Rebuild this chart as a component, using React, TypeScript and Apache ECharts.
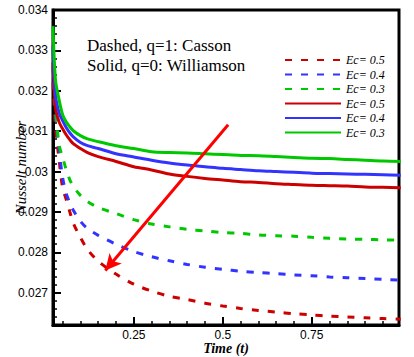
import React, { useEffect, useRef } from "react";
import * as echarts from "echarts";

// Time values (shared x for all curves)
const T = [0.023, 0.03, 0.04, 0.05, 0.06, 0.07, 0.08, 0.1, 0.12, 0.15, 0.2, 0.25, 0.3, 0.35, 0.4, 0.45, 0.5, 0.55, 0.6, 0.65, 0.7, 0.75, 0.8, 0.85, 0.9, 0.95, 1.0];

// Solid (q=0, Williamson)
const solidEc05 = [0.0327, 0.03158, 0.03123, 0.03106, 0.03091, 0.03079, 0.03069, 0.03057, 0.03047, 0.03037, 0.03025, 0.03012, 0.03004, 0.02994, 0.02988, 0.02983, 0.02979, 0.02975, 0.02973, 0.0297, 0.02968, 0.02966, 0.02965, 0.02964, 0.02962, 0.02961, 0.0296];
const solidEc04 = [0.0331, 0.0319, 0.03146, 0.03126, 0.03109, 0.03096, 0.03086, 0.03072, 0.03064, 0.03057, 0.03044, 0.03036, 0.03028, 0.03021, 0.03016, 0.03012, 0.03008, 0.03005, 0.03002, 0.03, 0.02998, 0.02996, 0.02995, 0.02994, 0.02993, 0.02992, 0.02991];
const solidEc03 = [0.0336, 0.03227, 0.03178, 0.03141, 0.03123, 0.03111, 0.03101, 0.03089, 0.03081, 0.03074, 0.03064, 0.03057, 0.03049, 0.03047, 0.03046, 0.03044, 0.03042, 0.0304, 0.03039, 0.03037, 0.03035, 0.03033, 0.03032, 0.0303, 0.03028, 0.03026, 0.03025];

// Dashed (q=1, Casson)
const dashedEc05 = [0.0322, 0.03109, 0.0303, 0.0296, 0.02931, 0.02901, 0.02872, 0.02837, 0.02807, 0.02778, 0.02746, 0.02721, 0.02704, 0.02691, 0.02683, 0.02674, 0.02667, 0.02661, 0.02656, 0.02652, 0.02648, 0.02645, 0.02642, 0.0264, 0.02638, 0.02636, 0.02634];
const dashedEc04 = [0.0326, 0.03141, 0.03054, 0.02985, 0.02946, 0.02923, 0.02904, 0.02877, 0.02859, 0.02842, 0.0282, 0.02802, 0.02789, 0.02779, 0.0277, 0.02763, 0.02758, 0.02753, 0.0275, 0.02747, 0.02744, 0.02742, 0.02739, 0.02737, 0.02735, 0.02733, 0.02731];
const dashedEc03 = [0.033, 0.0316, 0.03067, 0.03035, 0.03005, 0.0298, 0.02963, 0.02941, 0.02926, 0.02911, 0.02896, 0.02881, 0.0287, 0.02863, 0.02857, 0.02853, 0.02849, 0.02847, 0.02843, 0.02841, 0.0284, 0.02837, 0.02835, 0.02833, 0.02832, 0.02831, 0.0283];

// Ticks
const yMajor = [0.027, 0.028, 0.029, 0.03, 0.031, 0.032, 0.033, 0.034];
const xMajor = [0.25, 0.5, 0.75];

// Arrow annotation (data coords): start, end
const ARROW = [[0.515, 0.03116], [0.17, 0.02755]];

const RED = "#cc0000";
const BLUE = "#3333ff";
const GREEN = "#00c800";

function buildMinor(from: number, to: number, step: number) {
  const out: number[] = [];
  for (let v = from; v <= to + 1e-9; v += step) out.push(+v.toFixed(5));
  return out;
}

export default function App() {
  const ref = useRef<HTMLDivElement>(null);
  useEffect(() => {
    document.body.style.margin = "0";
    const chart = echarts.init(ref.current!, null, { renderer: "svg" });
    const yMinor = buildMinor(0.0264, 0.034, 0.0002);
    const xMinor = buildMinor(0.05, 0.95, 0.05);
    const mk = (name: string, ys: number[], color: string, dashed: boolean, extra: any = {}) => ({
      type: "line",
      name,
      data: T.map((t, i) => [t, ys[i]]),
      symbol: "none",
      smooth: 0.3,
      lineStyle: { color, width: 3, type: dashed ? [7, 9] : "solid" },
      itemStyle: { color },
      ...extra,
    });
    const sFont = "Liberation Serif";
    chart.setOption({
      animation: false,
      grid: { left: 53, right: 15, top: 10, bottom: 32, show: true, borderColor: "#000", borderWidth: 3, outerBoundsMode: "none", containLabel: false },
      xAxis: [
        {
          type: "value",
          min: 0.023,
          max: 0.995,
          position: "bottom",
          axisLine: { show: true, lineStyle: { color: "#000", width: 3 } },
          axisTick: { show: true, inside: true, length: 8, customValues: xMajor, lineStyle: { color: "#000", width: 2 } },
          axisLabel: { customValues: xMajor, formatter: (v: number) => String(+(+v).toFixed(3)), fontFamily: "Liberation Sans", fontSize: 12, color: "#000", margin: 4 },
          splitLine: { show: false },
          name: "Time (t)",
          nameLocation: "middle",
          nameGap: 16,
          nameMoveOverlap: false,
          nameTextStyle: { fontFamily: sFont, fontStyle: "italic", fontWeight: "bold", fontSize: 14, color: "#000" },
        },
        {
          type: "value",
          min: 0.023,
          max: 0.995,
          position: "bottom",
          offset: 0,
          axisLine: { show: false },
          axisTick: { show: true, inside: true, length: 4, customValues: xMinor, lineStyle: { color: "#000", width: 1.5 } },
          axisLabel: { show: false },
          splitLine: { show: false },
        },
      ],
      yAxis: [
        {
          type: "value",
          min: 0.0262,
          max: 0.034,
          position: "left",
          axisLine: { show: true, lineStyle: { color: "#000", width: 3 } },
          axisTick: { show: true, inside: true, length: 8, customValues: yMajor, lineStyle: { color: "#000", width: 2 } },
          axisLabel: { customValues: yMajor, formatter: (v: number) => String(+(+v).toFixed(3)), fontFamily: "Liberation Sans", fontSize: 12, color: "#000", margin: 5 },
          splitLine: { show: false },
          name: "Nusselt number",
          nameLocation: "middle",
          nameGap: 25,
          nameMoveOverlap: false,
          nameTextStyle: { fontFamily: sFont, fontStyle: "italic", fontSize: 15, color: "#000" },
        },
        {
          type: "value",
          min: 0.0262,
          max: 0.034,
          position: "left",
          offset: 0,
          axisLine: { show: false },
          axisTick: { show: true, inside: true, length: 4, customValues: yMinor, lineStyle: { color: "#000", width: 1.5 } },
          axisLabel: { show: false },
          splitLine: { show: false },
        },
      ],
      legend: {
        data: ["d0.5", "d0.4", "d0.3", "s0.5", "s0.4", "s0.3"],
        orient: "vertical",
        left: 279,
        top: 49,
        itemWidth: 56,
        itemHeight: 10,
        itemGap: 2.5,
        selectedMode: false,
        itemStyle: { opacity: 0, borderWidth: 0 },
        formatter: (n: string) => "Ec= " + n.slice(1),
        textStyle: { fontFamily: sFont, fontStyle: "italic", fontSize: 12, lineHeight: 12, color: "#000", padding: [0, 0, 0, 0] },
      },
      graphic: [
        { type: "text", left: 87, top: 37, style: { text: "Dashed, q=1: Casson", font: '17px "Liberation Serif"', fill: "#000" } },
        { type: "text", left: 87, top: 57, style: { text: "Solid, q=0: Williamson", font: '17px "Liberation Serif"', fill: "#000" } },
      ],
      series: [
        mk("d0.5", dashedEc05, RED, true),
        mk("d0.4", dashedEc04, BLUE, true),
        mk("d0.3", dashedEc03, GREEN, true),
        mk("s0.5", solidEc05, RED, false),
        mk("s0.4", solidEc04, BLUE, false),
        mk("s0.3", solidEc03, GREEN, false, {
          markLine: {
            silent: true,
            symbol: ["none", "arrow"],
            symbolSize: [12, 16],
            label: { show: false },
            lineStyle: { color: "#ff0000", width: 3, type: "solid" },
            data: [[{ coord: ARROW[0] }, { coord: ARROW[1] }]],
            z: 10,
          },
        }),
      ],
    });
    return () => chart.dispose();
  }, []);
  return <div ref={ref} style={{ width: 414, height: 357 }} />;
}
